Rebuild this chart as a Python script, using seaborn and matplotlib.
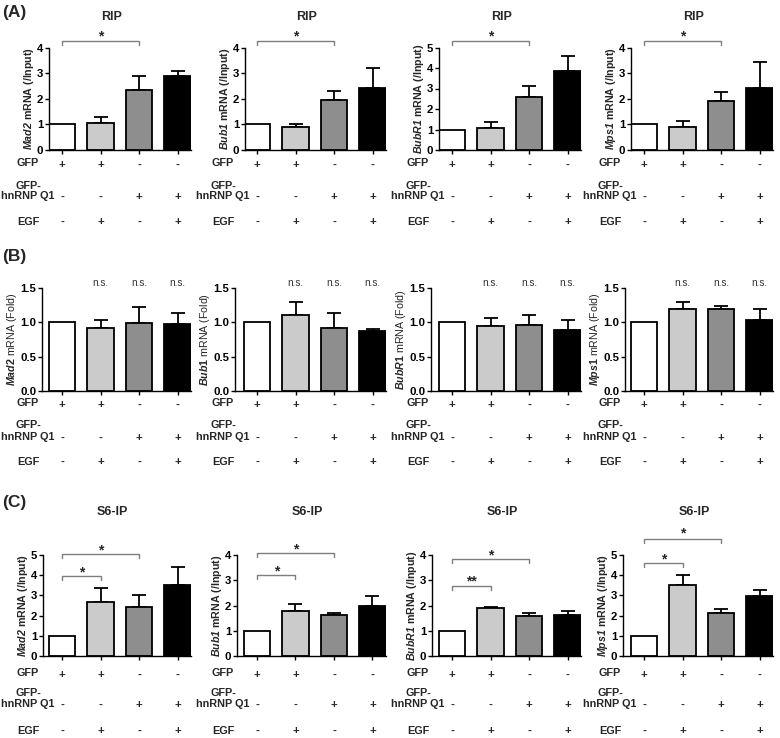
import numpy as np
import pandas as pd
import matplotlib
matplotlib.use("Agg")
import matplotlib.pyplot as plt
import matplotlib.transforms as mtransforms
import seaborn as sns

# ---------------- data ----------------
genes = ["Mad2", "Bub1", "BubR1", "Mps1"]
conditions = ["GFP", "GFP+EGF", "Q1", "Q1+EGF"]
gfp_signs = ["+", "+", "-", "-"]
q1_signs = ["-", "-", "+", "+"]
egf_signs = ["-", "+", "-", "+"]

rip_means = [[1.0, 1.05, 2.36, 2.88],
             [1.0, 0.90, 1.94, 2.42],
             [1.0, 1.05, 2.58, 3.87],
             [1.0, 0.91, 1.93, 2.41]]
rip_errs = [[0, 0.24, 0.51, 0.20],
            [0, 0.12, 0.35, 0.78],
            [0, 0.33, 0.55, 0.72],
            [0, 0.21, 0.33, 1.04]]
rip_ymax = [4, 4, 5, 4]

total_means = [[1.0, 0.92, 0.99, 0.97],
               [1.0, 1.11, 0.92, 0.87],
               [1.0, 0.95, 0.955, 0.895],
               [1.0, 1.19, 1.19, 1.04]]
total_errs = [[0, 0.11, 0.23, 0.17],
              [0, 0.19, 0.22, 0.03],
              [0, 0.11, 0.145, 0.14],
              [0, 0.11, 0.045, 0.15]]
total_ymax = [1.5, 1.5, 1.5, 1.5]

s6_means = [[1.0, 2.67, 2.45, 3.53],
            [1.0, 1.78, 1.61, 1.99],
            [1.0, 1.89, 1.59, 1.63],
            [1.0, 3.53, 2.15, 2.98]]
s6_errs = [[0, 0.70, 0.55, 0.90],
           [0, 0.29, 0.08, 0.37],
           [0, 0.05, 0.12, 0.15],
           [0, 0.50, 0.18, 0.28]]
s6_ymax = [5, 4, 4, 5]

# significance: (panel, i, j, label, line_px, star_px)
rip_sig = [(p, 0, 2, "*", 41, 33) for p in range(4)]
s6_sig = [(0, 0, 2, "*", 554, 547), (0, 0, 1, "*", 576, 569),
          (1, 0, 2, "*", 553, 546), (1, 0, 1, "*", 575, 568),
          (2, 0, 2, "*", 559, 552), (2, 0, 1, "**", 586, 578),
          (3, 0, 2, "*", 539, 530), (3, 0, 1, "*", 563, 556)]

# ---------------- style ----------------
sns.set_theme(style="white")
plt.rcParams["font.family"] = ["Liberation Sans", "DejaVu Sans"]
plt.rcParams["font.weight"] = "bold"
plt.rcParams["mathtext.fontset"] = "custom"
plt.rcParams["mathtext.rm"] = "Liberation Sans"
plt.rcParams["mathtext.it"] = "Liberation Sans:italic"
plt.rcParams["mathtext.bf"] = "Liberation Sans:italic:bold"

colors = ["#ffffff", "#cbcbcb", "#8e8e8e", "#000000"]
W, H = 780, 738
fig = plt.figure(figsize=(W / 100, H / 100), dpi=100)

c0s = [62, 257, 452, 644]
spacing = 38.5
bar_w = 0.69
ROWFS = 7.8
SIGNFS = 8.2


def fy(px):
    return 1 - px / H


def make_row(means, errs, ymaxs, spine_xs, top_px, bot_px, ylab_fmt,
             ylab_weight, tickfmt, title, title_px, row_offs, sigs, ns=False):
    axes = []
    for p in range(4):
        c0 = c0s[p]
        left = spine_xs[p]
        right = c0 + 3 * spacing + 13.5
        ax = fig.add_axes([left / W, fy(bot_px), (right - left) / W,
                           (bot_px - top_px) / H])
        df = pd.DataFrame({"cond": conditions, "val": means[p]})
        sns.barplot(data=df, x="cond", y="val", hue="cond", order=conditions,
                    hue_order=conditions, palette=colors, width=bar_w,
                    edgecolor="black", linewidth=1.3, legend=False,
                    errorbar=None, ax=ax, zorder=2)
        xs = np.arange(4)
        e = np.array(errs[p])
        m = np.array(means[p])
        sel = e > 0
        ax.errorbar(xs[sel], m[sel], yerr=[np.zeros(sel.sum()), e[sel]],
                    fmt="none", ecolor="black", elinewidth=1.3, capsize=5,
                    capthick=1.3, zorder=1)
        ax.set_xlim((left - c0) / spacing, (right - c0) / spacing)
        ax.set_ylim(0, ymaxs[p])
        step = 0.5 if ymaxs[p] < 2 else 1
        yt = np.arange(0, ymaxs[p] + 1e-6, step)
        ax.set_yticks(yt)
        ax.set_yticklabels([tickfmt.format(v) for v in yt], fontsize=8.2,
                           fontweight="bold")
        ax.set_xticks(xs)
        ax.set_xticklabels([])
        ax.set_xlabel("")
        ax.set_ylabel(ylab_fmt.format(genes[p]), fontsize=7.7,
                      fontweight=ylab_weight, labelpad=1)
        for s in ["top", "right"]:
            ax.spines[s].set_visible(False)
        for s in ["left", "bottom"]:
            ax.spines[s].set_color("black")
            ax.spines[s].set_linewidth(1.0)
        ax.tick_params(axis="both", direction="out", length=3, width=1,
                       colors="black", pad=1, left=True, bottom=True)
        ax.grid(False)

        tr = mtransforms.blended_transform_factory(ax.transData, fig.transFigure)
        # row annotations
        lx = (c0 - 34) / W
        o = row_offs
        fig.text(lx, fy(bot_px + o[0]), "GFP", ha="center", va="center",
                 fontsize=ROWFS, fontweight="bold")
        fig.text(lx, fy(bot_px + o[1]), "GFP-", ha="center", va="center",
                 fontsize=ROWFS, fontweight="bold")
        fig.text(lx, fy(bot_px + o[2]), "hnRNP Q1", ha="center", va="center",
                 fontsize=ROWFS, fontweight="bold")
        fig.text(lx, fy(bot_px + o[3]), "EGF", ha="center", va="center",
                 fontsize=ROWFS, fontweight="bold")
        for i in range(4):
            ax.text(i, fy(bot_px + o[0] + 2), gfp_signs[i], transform=tr,
                    ha="center", va="center", fontsize=SIGNFS,
                    fontweight="bold", clip_on=False)
            ax.text(i, fy(bot_px + o[2] + 1), q1_signs[i], transform=tr,
                    ha="center", va="center", fontsize=SIGNFS,
                    fontweight="bold", clip_on=False)
            ax.text(i, fy(bot_px + o[3]), egf_signs[i], transform=tr,
                    ha="center", va="center", fontsize=SIGNFS,
                    fontweight="bold", clip_on=False)
        if title:
            fig.text((c0 + 50) / W, fy(title_px), title, ha="center",
                     va="center", fontsize=9, fontweight="bold")
        if ns:
            for i in range(1, 4):
                ax.text(i, fy(bot_px - 108), "n.s.", transform=tr,
                        ha="center", va="center", fontsize=7.2,
                        fontweight="normal", color="#333333")
        for (pp, i, j, lab, lpx, spx) in sigs:
            if pp != p:
                continue
            ax.plot([i, i, j, j], [fy(lpx + 4), fy(lpx), fy(lpx), fy(lpx + 4)],
                    transform=tr, color="#7f7f7f", lw=1.0, clip_on=False)
            ax.text((i + j) / 2, fy(spx + 7), lab, transform=tr, ha="center",
                    va="baseline", fontsize=10, fontweight="bold",
                    clip_on=False)
        axes.append(ax)
    return axes


make_row(rip_means, rip_errs, rip_ymax, [49, 245, 439, 631], 47.5, 150,
         r"$\mathbf{{{}}}$ mRNA (/Input)", "bold", "{:.0f}", "RIP", 17,
         [13, 36, 46, 72], rip_sig)
make_row(total_means, total_errs, total_ymax, [42, 235, 431, 625], 288, 391,
         r"$\mathit{{{}}}$ mRNA (Fold)", "normal", "{:.1f}", None, None,
         [12, 34, 46, 71], [], ns=True)
make_row(s6_means, s6_errs, s6_ymax, [43, 237, 432, 623], 555, 656,
         r"$\mathbf{{{}}}$ mRNA (/Input)", "bold", "{:.0f}", "S6-IP", 512,
         [17, 37, 48, 75], s6_sig)

fig.text(2 / W, fy(12), "(A)", ha="left", va="center", fontsize=12.5,
         fontweight="bold")
fig.text(2 / W, fy(256), "(B)", ha="left", va="center", fontsize=12.5,
         fontweight="bold")
fig.text(2 / W, fy(503), "(C)", ha="left", va="center", fontsize=12.5,
         fontweight="bold")

fig.savefig("out.png", dpi=100)
